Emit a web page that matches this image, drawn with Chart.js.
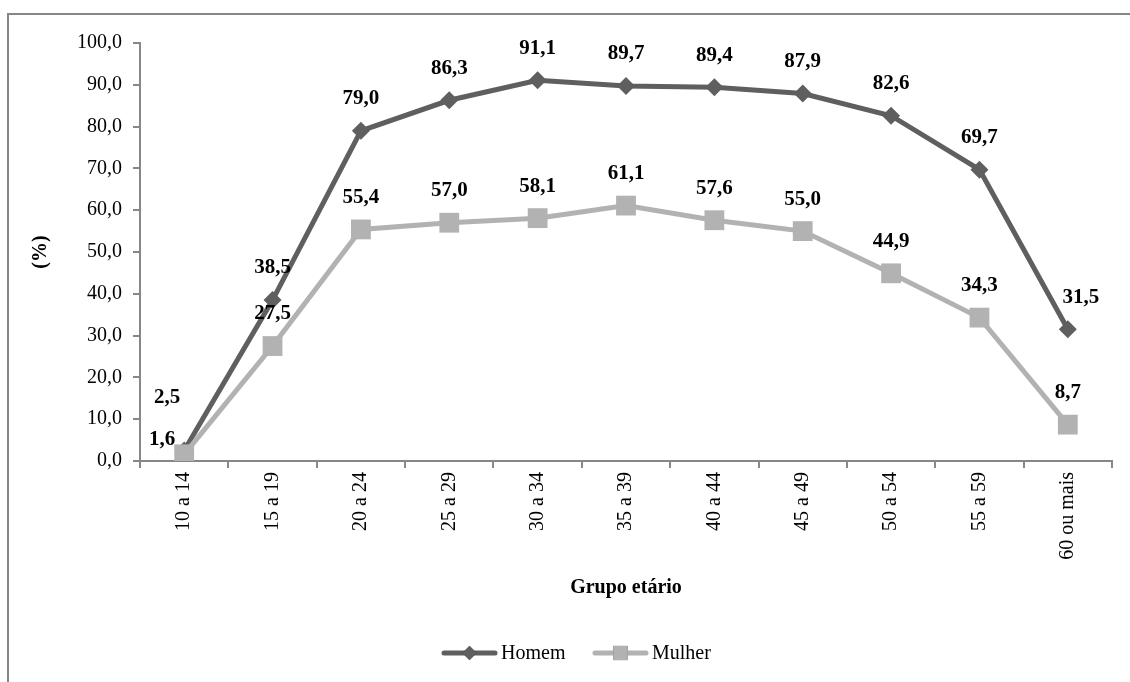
<!DOCTYPE html>
<html lang="pt">
<head>
<meta charset="utf-8">
<title>Taxa de participação por grupo etário</title>
<script src="https://cdn.jsdelivr.net/npm/chart.js@4.4.1/dist/chart.umd.min.js"></script>
<style>
  html, body { margin: 0; padding: 0; background: #fff; overflow: hidden; }
  #wrap { position: relative; width: 1130px; height: 682px; }
  #frame {
    position: absolute; left: 7px; top: 13px; width: 1200px; height: 800px;
    border-top: 2px solid #878787; border-left: 2px solid #878787;
    box-sizing: border-box; pointer-events: none;
  }
  canvas { position: absolute; left: 0; top: 0; }
</style>
</head>
<body>
<div id="wrap">
  <div id="frame"></div>
  <canvas id="chart" width="1130" height="682"></canvas>
</div>
<script>
// Age groups on the horizontal axis
const categories = ['10 a 14', '15 a 19', '20 a 24', '25 a 29', '30 a 34', '35 a 39',
                    '40 a 44', '45 a 49', '50 a 54', '55 a 59', '60 ou mais'];

// Participation rate (%) by sex
const homem  = [2.5, 38.5, 79.0, 86.3, 91.1, 89.7, 89.4, 87.9, 82.6, 69.7, 31.5];
const mulher = [1.6, 27.5, 55.4, 57.0, 58.1, 61.1, 57.6, 55.0, 44.9, 34.3, 8.7];

// Value axis ticks
const yTicks = [0, 10, 20, 30, 40, 50, 60, 70, 80, 90, 100];

const SERIF = '"Liberation Serif", "Times New Roman", serif';
const AXIS_GREY = '#878787';
const DARK = '#5f5f5f';
const LIGHT = '#b2b2b2';

const fmt = v => v.toFixed(1).replace('.', ',');

// Value-label nudges (px) for the crowded first and last groups
const labelShift = {
  0: { 0: [-17, -21], 10: [13, 0] },
  1: { 0: [-22, 17] }
};

const valueLabels = {
  id: 'valueLabels',
  afterDatasetsDraw(chart) {
    const ctx = chart.ctx;
    ctx.save();
    ctx.font = 'bold 21px ' + SERIF;
    ctx.fillStyle = '#000';
    ctx.textAlign = 'center';
    ctx.textBaseline = 'middle';
    chart.data.datasets.forEach((ds, di) => {
      chart.getDatasetMeta(di).data.forEach((pt, i) => {
        const s = (labelShift[di] && labelShift[di][i]) || [0, 0];
        ctx.fillText(fmt(ds.data[i]), pt.x + s[0], pt.y - 32 + s[1]);
      });
    });
    ctx.restore();
  }
};

const titlesAndLegend = {
  id: 'titlesAndLegend',
  afterDraw(chart) {
    const ctx = chart.ctx;
    const a = chart.chartArea;
    ctx.save();
    ctx.fillStyle = '#000';
    // axis titles
    ctx.font = 'bold 20px ' + SERIF;
    ctx.textAlign = 'center';
    ctx.textBaseline = 'middle';
    ctx.fillText('Grupo etário', (a.left + a.right) / 2, 588);
    ctx.save();
    ctx.translate(41, (a.top + a.bottom) / 2);
    ctx.rotate(-Math.PI / 2);
    ctx.fillText('(%)', 0, 0);
    ctx.restore();

    // legend
    const items = [
      { text: 'Homem', color: DARK, style: 'rectRot', r: 7, x: 442 },
      { text: 'Mulher', color: LIGHT, style: 'rect', r: 10, x: 593 }
    ];
    const y = 653;
    ctx.font = '20px ' + SERIF;
    ctx.textAlign = 'left';
    items.forEach(it => {
      ctx.strokeStyle = it.color;
      ctx.lineWidth = 5;
      ctx.lineCap = 'round';
      ctx.beginPath();
      ctx.moveTo(it.x + 2, y);
      ctx.lineTo(it.x + 53, y);
      ctx.stroke();
      Chart.helpers.drawPoint(ctx, {
        pointStyle: it.style, radius: it.r, borderWidth: 0, rotation: 0
      }, it.x + 27.5, y);
      ctx.fillStyle = it.color;
      Chart.helpers.drawPoint(ctx, {
        pointStyle: it.style, radius: it.r, borderWidth: 0, rotation: 0
      }, it.x + 27.5, y);
      ctx.fill();
      ctx.fillStyle = '#000';
      ctx.fillText(it.text, it.x + 59, y + 1);
    });
    ctx.restore();
  }
};

new Chart(document.getElementById('chart'), {
  type: 'line',
  data: {
    labels: categories,
    datasets: [
      {
        label: 'Homem', data: homem, order: 2,
        borderColor: DARK, backgroundColor: DARK, borderWidth: 5,
        pointStyle: 'rectRot', pointRadius: 9, pointBorderWidth: 0,
        pointBackgroundColor: DARK, tension: 0
      },
      {
        label: 'Mulher', data: mulher, order: 1,
        borderColor: LIGHT, backgroundColor: LIGHT, borderWidth: 5,
        pointStyle: 'rect', pointRadius: 14, pointBorderWidth: 0,
        pointBackgroundColor: LIGHT, tension: 0
      }
    ]
  },
  options: {
    responsive: false,
    animation: false,
    devicePixelRatio: 1,
    layout: { padding: { top: 43, right: 18, left: 0, bottom: 0 } },
    plugins: { legend: { display: false }, tooltip: { enabled: false } },
    scales: {
      x: {
        type: 'category',
        offset: true,
        afterFit(scale) { scale.height = 682 - 461; },
        grid: {
          offset: true, drawOnChartArea: false, drawTicks: true,
          tickLength: 7, color: AXIS_GREY, lineWidth: 2
        },
        border: { display: true, color: AXIS_GREY, width: 2 },
        ticks: {
          minRotation: 90, maxRotation: 90, autoSkip: false, padding: 4,
          color: '#000', font: { family: SERIF, size: 20 }
        }
      },
      y: {
        min: 0, max: 100,
        afterFit(scale) { scale.width = 140; },
        afterBuildTicks(scale) { scale.ticks = yTicks.map(v => ({ value: v })); },
        grid: {
          drawOnChartArea: false, drawTicks: true,
          tickLength: 7, color: AXIS_GREY, lineWidth: 2
        },
        border: { display: true, color: AXIS_GREY, width: 2 },
        ticks: {
          padding: 11, color: '#000',
          font: { family: SERIF, size: 20 },
          callback: v => fmt(v)
        }
      }
    }
  },
  plugins: [valueLabels, titlesAndLegend]
});
</script>
</body>
</html>
